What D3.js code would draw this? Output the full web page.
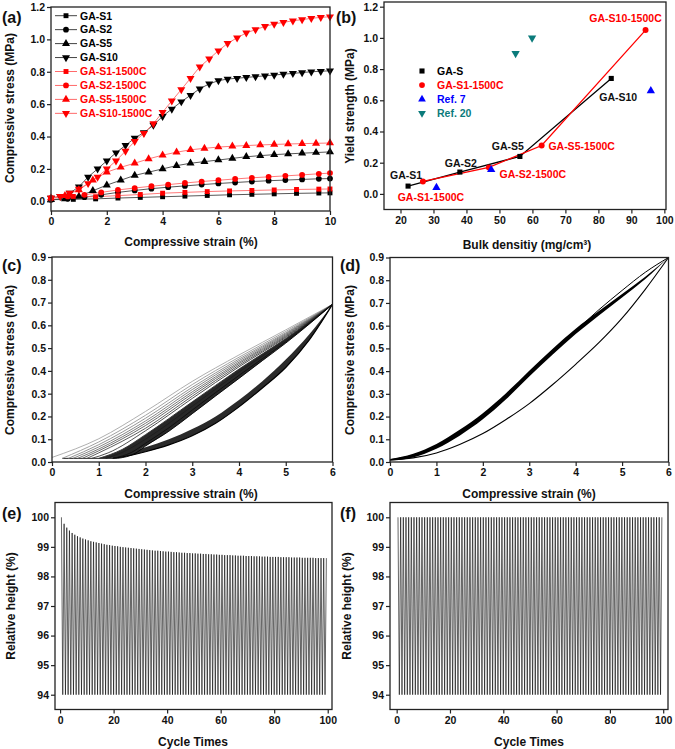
<!DOCTYPE html>
<html><head><meta charset="utf-8">
<script src="https://cdn.jsdelivr.net/npm/d3@7"></script>
<style>body{margin:0;background:#fff}svg{display:block}</style>
</head><body>
<svg id="chart" width="675" height="749"></svg>
<script>
// ---------------- DATA ----------------
// Panel (a): compressive stress-strain curves
const seriesA = ["GA-S1","GA-S2","GA-S5","GA-S10","GA-S1-1500C","GA-S2-1500C","GA-S5-1500C","GA-S10-1500C"];
const strainA08 = [0,0.8,1.6,2.4,3.2,4,4.8,5.6,6.4,7.2,8,8.8,9.6,10];
const strainA06 = [0,0.6,1.2,1.8,2.4,3,3.6,4.2,4.8,5.4,6,6.6,7.2,7.8,8.4,9,9.6,10];
const strainA05 = [0,0.5,1,1.5,2,2.5,3,3.5,4,4.5,5,5.5,6,6.5,7,7.5,8,8.5,9,9.5,10];
const strainA033 = [0,0.33,0.67,1,1.33,1.67,2,2.33,2.67,3,3.33,3.67,4,4.33,4.67,5,5.33,5.67,6,6.33,6.67,7,7.33,7.67,8,8.33,8.67,9,9.33,9.67,10];
const stressS1 = [0.01,0.012,0.015,0.02,0.024,0.028,0.032,0.036,0.04,0.043,0.046,0.049,0.051,0.052];
const stressS1C = [0.02,0.03,0.028,0.035,0.042,0.05,0.055,0.06,0.064,0.067,0.07,0.073,0.075,0.076];
const stressS2 = [0.01,0.015,0.025,0.04,0.055,0.067,0.078,0.087,0.095,0.103,0.11,0.116,0.122,0.127,0.131,0.135,0.139,0.14];
const stressS2C = [0.02,0.03,0.04,0.055,0.07,0.082,0.093,0.103,0.113,0.122,0.13,0.138,0.145,0.151,0.157,0.163,0.17,0.174];
const stressS5 = [0.01,0.015,0.03,0.065,0.1,0.13,0.16,0.18,0.2,0.22,0.235,0.245,0.255,0.265,0.275,0.282,0.288,0.293,0.297,0.301,0.305];
const stressS5C = [0.02,0.035,0.07,0.13,0.18,0.21,0.235,0.262,0.285,0.303,0.318,0.327,0.335,0.34,0.344,0.348,0.351,0.354,0.356,0.358,0.36];
const stressS10 = [0.02,0.03,0.05,0.09,0.15,0.2,0.25,0.3,0.345,0.39,0.425,0.47,0.525,0.57,0.615,0.655,0.695,0.725,0.745,0.755,0.76,0.765,0.77,0.775,0.78,0.785,0.79,0.795,0.8,0.803,0.806];
const stressS10C = [0.02,0.03,0.05,0.075,0.11,0.15,0.2,0.25,0.31,0.37,0.42,0.48,0.55,0.62,0.69,0.76,0.83,0.88,0.93,0.975,1.01,1.04,1.06,1.08,1.095,1.105,1.115,1.122,1.13,1.136,1.14];
const ticksAx = [0,2,4,6,8,10];
const ticksAy = [0,0.2,0.4,0.6,0.8,1.0,1.2];

// Panel (b): yield strength vs bulk density
const densGAS = [22.3,38.0,56.2,83.9];
const yieldGAS = [0.05,0.14,0.24,0.74];
const labelsGAS = ["GA-S1","GA-S2","GA-S5","GA-S10"];
const densGASC = [26.8,46.8,62.8,94.3];
const yieldGASC = [0.08,0.17,0.31,1.05];
const labelsGASC = ["GA-S1-1500C","GA-S2-1500C","GA-S5-1500C","GA-S10-1500C"];
const densRef7 = [30.9,47.5,95.9];
const yieldRef7 = [0.04,0.155,0.66];
const densRef20 = [54.9,59.9];
const yieldRef20 = [0.9,1.0];
const legendB = ["GA-S","GA-S1-1500C","Ref. 7","Ref. 20"];
const ticksBx = [20,30,40,50,60,70,80,90,100];
const ticksBy = [0,0.2,0.4,0.6,0.8,1.0,1.2];

// Panel (c): 100-cycle loading/unloading at 6 % strain (selected loading cycles + dense bands)
const cLoadCurves = [
 [[0,0.02],[1,0.102],[2,0.222],[3,0.354],[4,0.47],[5,0.58],[6,0.692]],
 [[0.22,0.016],[1,0.088],[2,0.205],[3,0.34],[4,0.46],[5,0.573],[6,0.692]],
 [[0.35,0.016],[1,0.076],[2,0.192],[3,0.328],[4,0.452],[5,0.567],[6,0.692]],
 [[0.45,0.016],[1,0.066],[2,0.18],[3,0.318],[4,0.445],[5,0.563],[6,0.692]],
 [[0.55,0.016],[1,0.057],[2,0.17],[3,0.308],[4,0.438],[5,0.559],[6,0.692]],
 [[0.65,0.016],[1,0.049],[2,0.16],[3,0.299],[4,0.432],[5,0.555],[6,0.692]],
 [[0.75,0.016],[1,0.04],[2,0.148],[3,0.289],[4,0.425],[5,0.551],[6,0.692]],
 [[0.85,0.016],[1.2,0.04],[2,0.137],[3,0.279],[4,0.418],[5,0.547],[6,0.692]],
 [[1.0,0.016],[1.5,0.055],[2,0.12],[3,0.264],[4,0.408],[5,0.542],[6,0.692]],
 [[1.15,0.016],[1.5,0.042],[2,0.1],[3,0.245],[4,0.395],[5,0.535],[6,0.692]],
 [[1.3,0.016],[1.7,0.042],[2,0.082],[2.5,0.15],[3,0.228],[4,0.38],[5,0.528],[6,0.692]],
 [[1.4,0.016],[1.8,0.04],[2,0.07],[2.5,0.135],[3,0.212],[3.5,0.29],[4,0.367],[4.5,0.445],[5,0.522],[5.5,0.605],[6,0.692]]
];
const cBandStrain = [1.0,1.5,2,2.5,3,3.5,4,4.5,5,5.5,6];
const cBandUpper = [0.016,0.055,0.12,0.19,0.264,0.336,0.408,0.475,0.542,0.617,0.692];
const cBandLower = [0.016,0.022,0.07,0.135,0.212,0.29,0.367,0.445,0.522,0.605,0.692];
const cUnloadStrain = [1.3,1.5,2,2.5,3,3.5,4,4.5,5,5.5,6];
const cUnloadUpper = [0.02,0.035,0.065,0.1,0.145,0.2,0.272,0.355,0.45,0.56,0.692];
const cUnloadLower = [0.016,0.022,0.045,0.075,0.115,0.17,0.242,0.325,0.415,0.535,0.692];
const cPreload = [[0.22,0.016],[1.4,0.016]];
const ticksCx = [0,1,2,3,4,5,6];
const ticksCy = [0,0.1,0.2,0.3,0.4,0.5,0.6,0.7,0.8,0.9];

// Panel (d): 100-cycle loading/unloading (1500C)
const dStrain = [0,0.5,1,1.5,2,2.5,3,3.5,4,4.5,5,5.5,6];
const dBandUpper = [0.013,0.036,0.079,0.142,0.215,0.303,0.402,0.497,0.586,0.664,0.739,0.815,0.9];
const dBandLower = [0.005,0.02,0.058,0.116,0.188,0.276,0.376,0.472,0.563,0.645,0.724,0.805,0.9];
const dFirstLoad = [0.01,0.03,0.068,0.128,0.2,0.29,0.39,0.487,0.578,0.67,0.755,0.835,0.9];
const dUnload = [0.01,0.018,0.04,0.077,0.125,0.187,0.257,0.34,0.43,0.525,0.633,0.76,0.9];

// Panel (e): relative height peaks per cycle (troughs at 94 %)
const peaksE = [100.00,99.78,99.65,99.55,99.47,99.41,99.36,99.32,99.28,99.25,
 99.22,99.19,99.17,99.15,99.13,99.11,99.09,99.07,99.06,99.04,
 99.03,99.02,99.00,98.99,98.98,98.97,98.96,98.95,98.94,98.93,
 98.92,98.91,98.90,98.89,98.88,98.87,98.87,98.86,98.85,98.84,
 98.84,98.83,98.82,98.82,98.81,98.80,98.80,98.79,98.79,98.78,
 98.78,98.77,98.77,98.76,98.76,98.75,98.75,98.74,98.74,98.73,
 98.73,98.72,98.72,98.72,98.71,98.71,98.70,98.70,98.70,98.69,
 98.69,98.69,98.68,98.68,98.68,98.67,98.67,98.67,98.66,98.66,
 98.66,98.66,98.65,98.65,98.65,98.65,98.64,98.64,98.64,98.64,
 98.63,98.63,98.63,98.63,98.63,98.62,98.62,98.62,98.62,98.62];
const troughE = 94;
// Panel (f): relative height peaks per cycle (troughs at 94 %)
const peaksF = [100,100,100,100,100,100,100,100,100,100,100,100,100,100,100,100,100,100,100,100,
 100,100,100,100,100,100,100,100,100,100,100,100,100,100,100,100,100,100,100,100,
 100,100,100,100,100,100,100,100,100,100,100,100,100,100,100,100,100,100,100,100,
 100,100,100,100,100,100,100,100,100,100,100,100,100,100,100,100,100,100,100,100,
 100,100,100,100,100,100,100,100,100,100,100,100,100,100,100,100,100,100,100,100];
const troughF = 94;
const ticksEx = [0,20,40,60,80,100];
const ticksEy = [94,95,96,97,98,99,100];

// ---------------- DRAWING ----------------
const svg = d3.select("#chart");
const FONT = '"Liberation Sans", Arial, Helvetica, sans-serif';
const RED = "#ff0000", BLUE = "#0000ff", TEAL = "#0b7b7b", INK = "#111";

function makePanel(o){
  const x = d3.scaleLinear().domain(o.xd).range([o.l,o.r]);
  const y = d3.scaleLinear().domain(o.yd).range([o.b,o.t]);
  const g = svg.append("g");
  const data = g.append("g");
  g.append("rect").attr("x",o.l).attr("y",o.t).attr("width",o.r-o.l).attr("height",o.b-o.t)
    .attr("fill","none").attr("stroke","#222").attr("stroke-width",1.3);
  const gx = g.append("g").attr("transform",`translate(0,${o.b})`)
    .call(d3.axisBottom(x).tickValues(o.xt).tickSize(4).tickPadding(3).tickSizeOuter(0).tickFormat(o.xf));
  const gy = g.append("g").attr("transform",`translate(${o.l},0)`)
    .call(d3.axisLeft(y).tickValues(o.yt).tickSize(4).tickPadding(2).tickSizeOuter(0).tickFormat(o.yf));
  [gx,gy].forEach(a=>{
    a.select(".domain").remove();
    a.selectAll(".tick line").attr("stroke","#222").attr("stroke-width",1.2);
    a.selectAll(".tick text").attr("font-family",FONT).attr("font-weight","bold").attr("font-size",10.5).attr("fill",INK);
  });
  return {x,y,data,o};
}
function txt(x,y,s,opt={}){
  return svg.append("text").attr("x",x).attr("y",y).attr("text-anchor",opt.anchor||"middle")
    .attr("font-family",FONT).attr("font-weight","bold").attr("font-size",opt.size||12)
    .attr("fill",opt.fill||INK).text(s);
}
function ytitle(x,y,s){
  svg.append("text").attr("transform",`translate(${x},${y}) rotate(-90)`).attr("text-anchor","middle")
    .attr("font-family",FONT).attr("font-weight","bold").attr("font-size",12).attr("fill",INK).text(s);
}
const fmt1 = d3.format(".1f"), fmtd = d3.format("d");
const symType = {sq:d3.symbolSquare, ci:d3.symbolCircle, up:d3.symbolTriangle, dn:d3.symbolTriangle};
function marker(g,cx,cy,kind,color,size){
  g.append("path").attr("d",d3.symbol().type(symType[kind]).size(size)())
    .attr("transform",`translate(${cx},${cy})${kind==="dn"?" rotate(180)":""}`).attr("fill",color);
}

// ---- Panel (a)
const pa = makePanel({l:51,r:330,t:7,b:211,xd:[0,10],yd:[-0.06,1.2],xt:ticksAx,yt:ticksAy,xf:fmtd,yf:fmt1});
const aDefs = [
  {name:seriesA[0], xs:strainA08, ys:stressS1, kind:"sq", c:"#000", lc:"#444"},
  {name:seriesA[1], xs:strainA06, ys:stressS2, kind:"ci", c:"#000", lc:"#444"},
  {name:seriesA[2], xs:strainA05, ys:stressS5, kind:"up", c:"#000", lc:"#444"},
  {name:seriesA[3], xs:strainA033, ys:stressS10, kind:"dn", c:"#000", lc:"#444"},
  {name:seriesA[4], xs:strainA08, ys:stressS1C, kind:"sq", c:RED, lc:"#ff6a6a"},
  {name:seriesA[5], xs:strainA06, ys:stressS2C, kind:"ci", c:RED, lc:"#ff6a6a"},
  {name:seriesA[6], xs:strainA05, ys:stressS5C, kind:"up", c:RED, lc:"#ff6a6a"},
  {name:seriesA[7], xs:strainA033, ys:stressS10C, kind:"dn", c:RED, lc:"#ff6a6a"}
];
const msize = {sq:24, ci:26, up:28, dn:28};
aDefs.forEach(s=>{
  const pts = s.xs.map((v,i)=>[v,s.ys[i]]);
  pa.data.append("path").attr("d",d3.line().x(d=>pa.x(d[0])).y(d=>pa.y(d[1]))(pts))
    .attr("fill","none").attr("stroke",s.lc).attr("stroke-width",0.9);
});
aDefs.forEach(s=>{
  s.xs.forEach((v,i)=>marker(pa.data,pa.x(v),pa.y(s.ys[i]),s.kind,s.c,msize[s.kind]));
});
aDefs.forEach((s,i)=>{
  const yy = 15.7 + i*13.95;
  svg.append("line").attr("x1",55).attr("x2",77).attr("y1",yy).attr("y2",yy).attr("stroke",s.lc).attr("stroke-width",1);
  marker(svg,66,yy,s.kind,s.c,msize[s.kind]);
  txt(80,yy+3.8,s.name,{anchor:"start",size:10.5,fill:s.c});
});
txt(191,246,"Compressive strain (%)");
ytitle(14,108,"Compressive stress (MPa)");
txt(2,23,"(a)",{anchor:"start",size:16});

// ---- Panel (b)
const pb = makePanel({l:384,r:666,t:2,b:209.5,xd:[15,100.5],yd:[-0.1,1.23],xt:ticksBx,yt:ticksBy,xf:fmtd,yf:fmt1});
const lineB = d3.line().x(d=>pb.x(d[0])).y(d=>pb.y(d[1]));
pb.data.append("path").attr("d",lineB(densGAS.map((v,i)=>[v,yieldGAS[i]]))).attr("fill","none").attr("stroke","#000").attr("stroke-width",1.3);
pb.data.append("path").attr("d",lineB(densGASC.map((v,i)=>[v,yieldGASC[i]]))).attr("fill","none").attr("stroke",RED).attr("stroke-width",1.3);
densGAS.forEach((v,i)=>marker(pb.data,pb.x(v),pb.y(yieldGAS[i]),"sq","#000",26));
densGASC.forEach((v,i)=>marker(pb.data,pb.x(v),pb.y(yieldGASC[i]),"ci",RED,28));
densRef7.forEach((v,i)=>marker(pb.data,pb.x(v),pb.y(yieldRef7[i]),"up",BLUE,30));
densRef20.forEach((v,i)=>marker(pb.data,pb.x(v),pb.y(yieldRef20[i]),"dn",TEAL,30));
const offGAS = [[-2,-11],[1,-9],[-12,-10],[7,19]];
const offGASC = [[8,16],[44,7],[40,1],[-20,-12]];
labelsGAS.forEach((s,i)=>txt(pb.x(densGAS[i])+offGAS[i][0],pb.y(yieldGAS[i])+offGAS[i][1]+3.8,s,{size:10.5}));
labelsGASC.forEach((s,i)=>txt(pb.x(densGASC[i])+offGASC[i][0],pb.y(yieldGASC[i])+offGASC[i][1]+3.8,s,{size:10.5,fill:RED}));
const legBStyle = [["sq","#000"],["ci",RED],["up",BLUE],["dn",TEAL]];
legendB.forEach((s,i)=>{
  const yy = 71 + i*14.1;
  marker(svg,422,yy,legBStyle[i][0],legBStyle[i][1],26);
  txt(437,yy+3.8,s,{anchor:"start",size:10.5,fill:legBStyle[i][1]});
});
txt(527,249,"Bulk densitiy (mg/cm³)");
ytitle(354,106,"Yield strength (MPa)");
txt(336,23,"(b)",{anchor:"start",size:16});

// ---- Panel (c)
const pc = makePanel({l:52,r:332.5,t:257,b:462,xd:[0,6],yd:[0,0.9],xt:ticksCx,yt:ticksCy,xf:fmtd,yf:fmt1});
const lineC = d3.line().x(d=>pc.x(d[0])).y(d=>pc.y(d[1])).curve(d3.curveMonotoneX);
const grayC = d3.scaleLinear().domain([0,cLoadCurves.length-1]).range(["#a6a6a6","#000"]);
pc.data.append("path").attr("d",d3.area().x((d,i)=>pc.x(d)).y0((d,i)=>pc.y(cBandLower[i])).y1((d,i)=>pc.y(cBandUpper[i])).curve(d3.curveMonotoneX)(cBandStrain))
  .attr("fill","#111").attr("opacity",0.9);
pc.data.append("path").attr("d",d3.area().x((d,i)=>pc.x(d)).y0((d,i)=>pc.y(cUnloadLower[i])).y1((d,i)=>pc.y(cUnloadUpper[i])).curve(d3.curveMonotoneX)(cUnloadStrain))
  .attr("fill","#2a2a2a");
pc.data.append("path").attr("d",lineC(cUnloadStrain.map((v,i)=>[v,cUnloadLower[i]]))).attr("fill","none").attr("stroke","#000").attr("stroke-width",1.2);
pc.data.append("path").attr("d",lineC(cPreload)).attr("fill","none").attr("stroke","#222").attr("stroke-width",1);
cLoadCurves.forEach((c,i)=>{
  pc.data.append("path").attr("d",lineC(c)).attr("fill","none").attr("stroke",grayC(i)).attr("stroke-width",0.9);
});
txt(191,498,"Compressive strain (%)");
ytitle(14,360,"Compressive stress (MPa)");
txt(2,271,"(c)",{anchor:"start",size:16});

// ---- Panel (d)
const pd = makePanel({l:390,r:668.5,t:257.5,b:462,xd:[0,6],yd:[0,0.9],xt:ticksCx,yt:ticksCy,xf:fmtd,yf:fmt1});
const lineD = d3.line().x(d=>pd.x(d[0])).y(d=>pd.y(d[1])).curve(d3.curveMonotoneX);
pd.data.append("path").attr("d",d3.area().x(d=>pd.x(d)).y0((d,i)=>pd.y(dBandLower[i])).y1((d,i)=>pd.y(dBandUpper[i])).curve(d3.curveMonotoneX)(dStrain))
  .attr("fill","#000");
pd.data.append("path").attr("d",lineD(dStrain.map((v,i)=>[v,dFirstLoad[i]]))).attr("fill","none").attr("stroke","#000").attr("stroke-width",1);
pd.data.append("path").attr("d",lineD(dStrain.map((v,i)=>[v,dUnload[i]]))).attr("fill","none").attr("stroke","#000").attr("stroke-width",1.1);
txt(529,498,"Compressive strain (%)");
ytitle(354,360,"Compressive stress (MPa)");
txt(340,271,"(d)",{anchor:"start",size:16});

// ---- Panels (e) and (f)
function cyclePanel(p,peaks,trough){
  const pts = [];
  peaks.forEach((v,i)=>{ pts.push([i+0.5,v]); if(i<peaks.length-1) pts.push([i+1,trough]); });
  p.data.append("path").attr("d",d3.line().x(d=>p.x(d[0])).y(d=>p.y(d[1]))(pts))
    .attr("fill","none").attr("stroke","#000").attr("stroke-width",0.6);
}
const pe = makePanel({l:55,r:332,t:502.5,b:709.5,xd:[-1.9,101.6],yd:[93.5,100.5],xt:ticksEx,yt:ticksEy,xf:fmtd,yf:fmtd});
cyclePanel(pe,peaksE,troughE);
txt(193,746,"Cycle Times");
ytitle(15,606,"Relative height (%)");
txt(2,519,"(e)",{anchor:"start",size:16});

const pf = makePanel({l:390,r:668,t:502.5,b:709.5,xd:[-2.5,101.8],yd:[93.5,100.5],xt:ticksEx,yt:ticksEy,xf:fmtd,yf:fmtd});
cyclePanel(pf,peaksF,troughF);
txt(529,746,"Cycle Times");
ytitle(351,606,"Relative height (%)");
txt(340,519,"(f)",{anchor:"start",size:16});
</script>
</body></html>
